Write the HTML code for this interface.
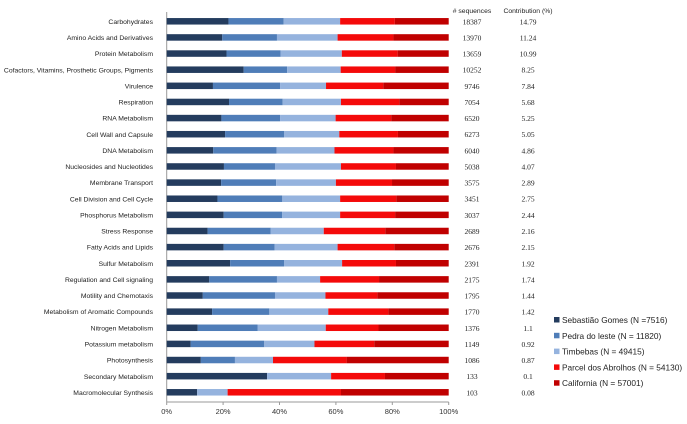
<!DOCTYPE html>
<html><head><meta charset="utf-8"><style>
body{margin:0;background:#fff;}
svg text{font-family:"Liberation Sans",sans-serif;}
svg text.serif{font-family:"Liberation Serif",serif;}
</style></head><body>
<svg id="chart" width="687" height="419" xmlns="http://www.w3.org/2000/svg"></svg>
<script>
const categories=["Carbohydrates","Amino Acids and Derivatives","Protein Metabolism","Cofactors, Vitamins, Prosthetic Groups, Pigments","Virulence","Respiration","RNA Metabolism","Cell Wall and Capsule","DNA Metabolism","Nucleosides and Nucleotides","Membrane Transport","Cell Division and Cell Cycle","Phosphorus Metabolism","Stress Response","Fatty Acids and Lipids","Sulfur Metabolism","Regulation and Cell signaling","Motility and Chemotaxis","Metabolism of Aromatic Compounds","Nitrogen Metabolism","Potassium metabolism","Photosynthesis","Secondary Metabolism","Macromolecular Synthesis"];
const sequences=["18387","13970","13659","10252","9746","7054","6520","6273","6040","5038","3575","3451","3037","2689","2676","2391","2175","1795","1770","1376","1149","1086","133","103"];
const contribution=["14.79","11.24","10.99","8.25","7.84","5.68","5.25","5.05","4.86","4.07","2.89","2.75","2.44","2.16","2.15","1.92","1.74","1.44","1.42","1.1","0.92","0.87","0.1","0.08"];
const seriesNames=["Sebastião Gomes (N =7516)","Pedra do leste (N = 11820)","Timbebas (N = 49415)","Parcel dos Abrolhos (N = 54130)","California (N = 57001)"];
const sebastiao=[21.9,19.7,21.2,27.3,16.4,22.1,19.4,20.7,16.5,20.3,19.3,18.0,20.2,14.5,20.2,22.5,15.1,12.8,16.1,11.0,8.5,12.1,35.6,10.8];
const pedra=[19.6,19.4,19.2,15.4,23.8,19.0,20.8,20.9,22.5,18.1,19.5,23.0,20.7,22.4,18.1,19.1,24.0,25.6,20.3,21.2,26.1,12.1,0,0];
const timbebas=[20.0,21.5,21.7,19.0,16.3,20.7,19.7,19.6,20.5,23.4,21.2,20.5,20.6,18.8,22.3,20.6,15.3,17.9,20.9,24.2,17.8,13.5,22.7,10.8];
const parcel=[19.4,19.8,19.8,19.3,20.3,20.7,19.7,20.8,20.9,19.5,19.9,19.9,19.5,21.8,20.1,19.1,20.9,18.4,21.3,18.7,21.2,26.1,19.1,40.2];
const california=[19.1,19.6,18.1,19.0,23.2,17.5,20.4,18.0,19.6,18.7,20.1,18.6,19.0,22.5,19.3,18.7,24.7,25.3,21.4,24.9,26.4,36.2,22.6,38.2];
const xTicks=[0,20,40,60,80,100];
const series=[sebastiao,pedra,timbebas,parcel,california];
const colors=["#243c5e","#4f7db8","#95b3de","#f40a0a","#c00000"];
const svg=document.getElementById('chart');
const NS="http://www.w3.org/2000/svg";
const x0=166.7,x1=448.7,yTop=21.3,step=16.13,barH=6.5;
const xs=v=>x0+(x1-x0)*v/100;
const ys=i=>yTop+i*step;
function mk(tag,attrs,txt){const e=document.createElementNS(NS,tag);for(const k in attrs)e.setAttribute(k,attrs[k]);if(txt!==undefined)e.textContent=txt;svg.appendChild(e);return e;}
let ax=mk('line',{x1:x0,y1:12,x2:x0,y2:402,stroke:'#999','stroke-width':1});


let bx=mk('line',{x1:x0,y1:402,x2:x1,y2:402,stroke:'#999','stroke-width':1});


xTicks.forEach(t=>{
 const tl=mk('line',{x1:xs(t),y1:402,x2:xs(t),y2:405,stroke:'#999'});
 
 
 const tx=mk('text',{x:xs(t),y:414,'font-size':7.5,'text-anchor':'middle',fill:'#333'},t+'%');
 
 
});
const h1=mk('text',{x:472,y:13,'font-size':6.8,'text-anchor':'middle',fill:'#222'},'# sequences');


const h2=mk('text',{x:528,y:13,'font-size':6.8,'text-anchor':'middle',fill:'#222'},'Contribution (%)');


categories.forEach((c,i)=>{
 const y=ys(i);
 const lb=mk('text',{x:153,y:y+2.6,'font-size':6.8,'text-anchor':'end',fill:'#222'},c);
 
 
 let acc=0;
 series.forEach((s,k)=>{
  const v=s[i];
  const r=mk('rect',{x:xs(acc),y:y-barH/2,width:Math.max(0,xs(acc+v)-xs(acc)),height:barH,fill:colors[k]});
  
  
  acc+=v;
 });
 const sq=mk('text',{x:472,y:y+3,'font-size':7.5,'text-anchor':'middle',fill:'#222',class:'serif'},sequences[i]);
 
 
 const ct=mk('text',{x:528,y:y+3,'font-size':7.5,'text-anchor':'middle',fill:'#222',class:'serif'},contribution[i]);
 
 
});
seriesNames.forEach((n,k)=>{
 const y=320+k*15.8;
 const r=mk('rect',{x:554,y:y-3,width:5.5,height:5.5,fill:colors[k]});
 
 
 const t=mk('text',{x:562,y:y+3,'font-size':8.3,fill:'#222'},n);
 
 
});
</script>
</body></html>
